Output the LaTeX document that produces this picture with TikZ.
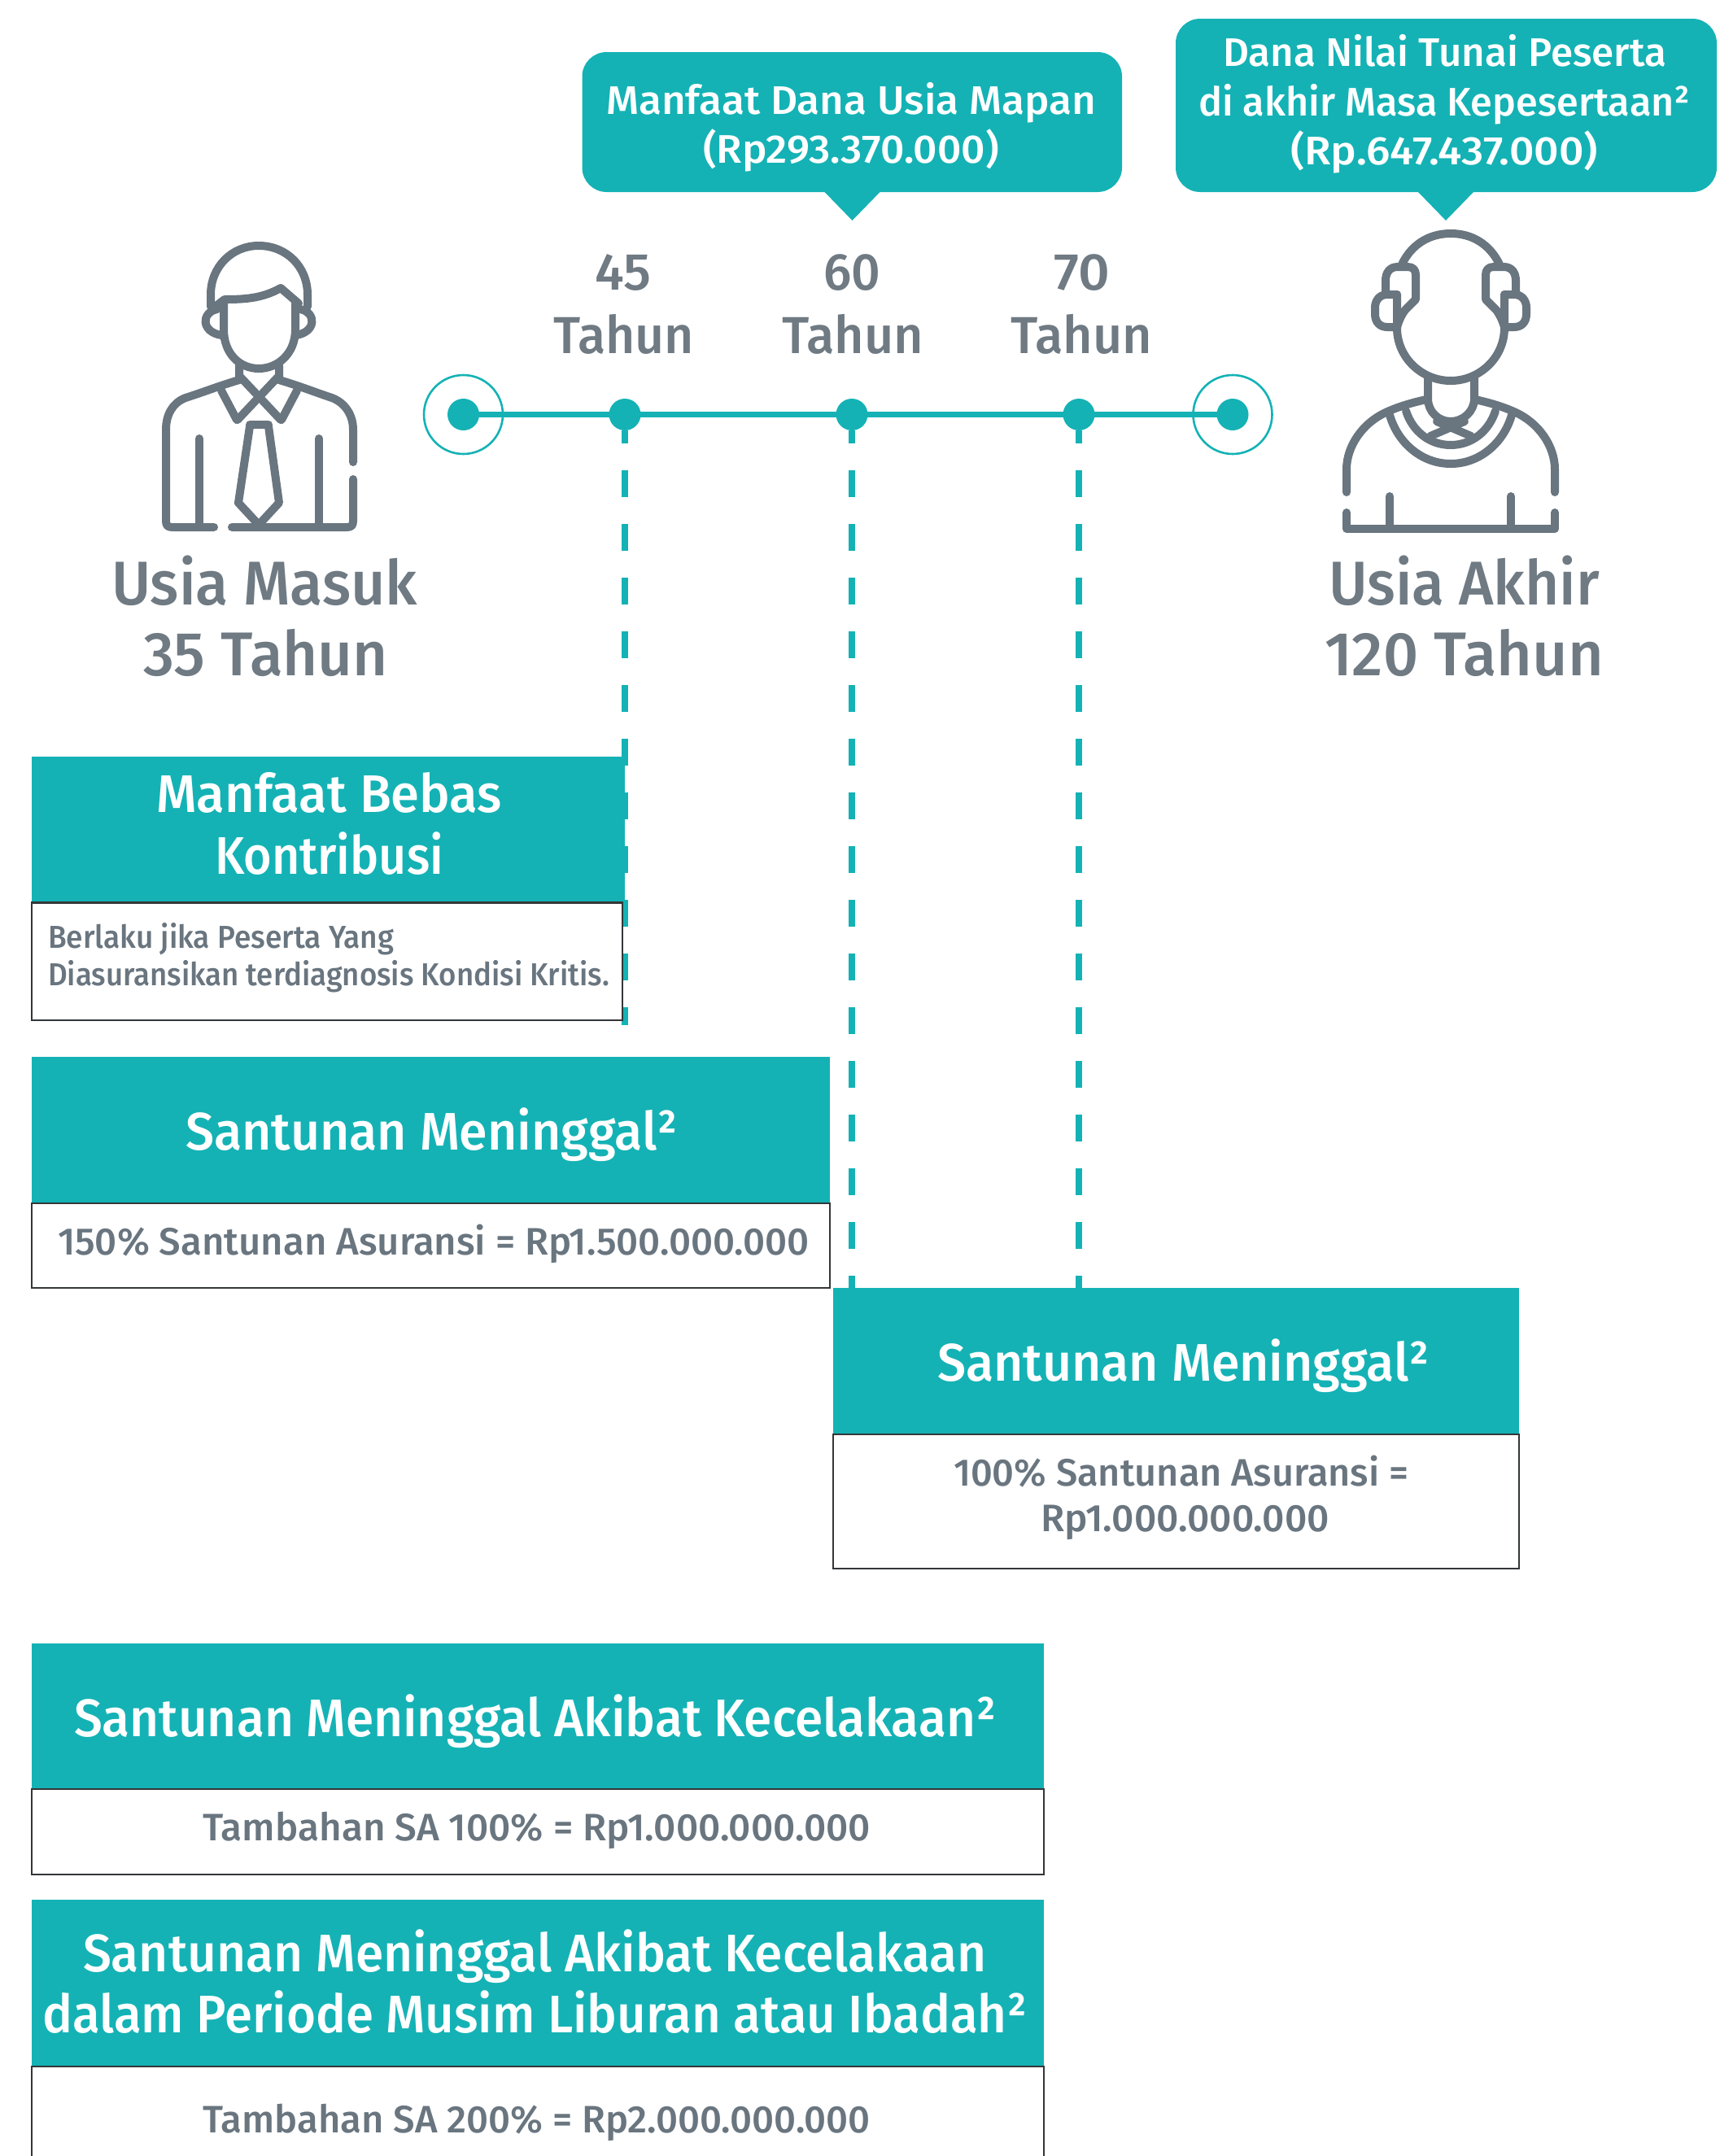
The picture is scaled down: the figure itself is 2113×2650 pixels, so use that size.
\documentclass[tikz,border=0pt]{standalone}
\usetikzlibrary{calc}
\usepackage{graphicx}
\usepackage{fontspec}
\setmainfont{Fira Sans Medium}
\definecolor{teal1}{HTML}{14B2B5}
\definecolor{grayt}{HTML}{6F7A83}
\definecolor{grayi}{HTML}{69757F}
\definecolor{edgek}{HTML}{333638}
\newsavebox\tbox
\newcommand\tx[7]{%
  \node[anchor=base west,inner sep=0pt,outer sep=0pt,text=#6] (#1) at (#2,#4)
   {\sbox\tbox{\fontsize{#5}{#5}\selectfont #7}\scalebox{\fpeval{(#3-#2)/\wd\tbox}}[1]{\usebox\tbox}};}
\newcommand\bx[6]{\node[#6,anchor=north west,inner sep=0pt,outer sep=0pt,
   minimum width={(#4-#2)*1pt},minimum height={(#5-#3)*1pt}] (#1) at (#2,#3) {};}
\tikzset{
 tealbox/.style={fill=teal1,draw=none},
 whitebox/.style={fill=white,draw=edgek,line width=2.8pt},
 bubble/.style={fill=teal1,draw=none,rounded corners=30pt},
 dotn/.style={circle,fill=teal1,draw=none,minimum size=39pt,inner sep=0pt},
 ringn/.style={circle,draw=teal1,fill=white,line width=2.6pt,minimum size=97pt,inner sep=0pt},
 tline/.style={draw=teal1,line width=7pt},
 dashl/.style={draw=teal1,line width=8pt,dash pattern=on 33pt off 33pt,dash phase=17pt},
 icon/.style={draw=grayi,line width=10pt,line cap=round,line join=round},
}
\begin{document}
\begin{tikzpicture}[x=1pt,y=-1pt]
\useasboundingbox (0,0) rectangle (2113,2650);
\clip (0,0) rectangle (2113,2650);

% timeline
\node[ringn] (r0) at (569.5,509.5) {};
\node[ringn] (r1) at (1515,509.5) {};
\node[dotn] (s0) at (569.5,509.5) {};
\node[dotn] (s1) at (1515,509.5) {};
\node[dotn] (d45) at (768,509.5) {};
\node[dotn] (d60) at (1047,509.5) {};
\node[dotn] (d70) at (1326,509.5) {};
\draw[tline] (s0.center) -- (d45.center) -- (d60.center) -- (d70.center) -- (s1.center);
\coordinate (e45) at (768,1260);
\draw[dashl] (d45.south) -- (e45);

% boxes with the dashed lines under them
\bx{t3}{1024}{1583}{1867}{1762}{tealbox}
\draw[dashl] (d60.south) -- (d60.south |- t3.north);
\draw[dashl] (d70.south) -- (d70.south |- t3.north);
\bx{w3}{1024}{1763}{1867}{1928}{whitebox}
\bx{t1}{39}{930}{768}{1108}{tealbox}
\bx{w1}{39}{1109.5}{765}{1254}{whitebox}
\bx{t2}{39}{1299}{1020}{1478}{tealbox}
\bx{w2}{39}{1479}{1020}{1583}{whitebox}
\bx{t4}{39}{2020}{1283}{2198}{tealbox}
\bx{w4}{39}{2199}{1283}{2304}{whitebox}
\bx{t5}{39}{2335}{1283}{2539}{tealbox}
\bx{w5}{39}{2540}{1283}{2680}{whitebox}

% bubbles
\bx{b1}{715.5}{64}{1379}{236}{bubble}
\bx{b2}{1445}{23}{2110}{236}{bubble}
\coordinate (tip1) at (1047.5,271);
\coordinate (tip2) at (1777,271);
\fill[teal1] (tip1) -- ($(tip1 |- b1.south)+(-35,-1)$) -- ($(tip1 |- b1.south)+(35,-1)$) -- cycle;
\fill[teal1] (tip2) -- ($(tip2 |- b2.south)+(-35,-1)$) -- ($(tip2 |- b2.south)+(35,-1)$) -- cycle;

% man
\begin{scope}[icon]
\draw (259,377) -- (259,362) .. controls (259,328) and (285,302) .. (318,302) .. controls (352,302) and (378,328) .. (378,362) -- (378,377);
\draw (263,378) -- (276,368) .. controls (300,368) and (322,367) .. (345,354) -- (367,373);
\draw (275,370) -- (275,405) .. controls (275,435) and (295,453) .. (318,453) .. controls (341,453) and (363,435) .. (363,405) -- (363,373);
\draw (267,380) .. controls (247,384) and (247,408) .. (272,412);
\draw (369,380) .. controls (389,384) and (389,408) .. (364,412);
\draw (294,449) -- (294,467) .. controls (270,474) and (250,482) .. (228,489) .. controls (212,495) and (204,510) .. (204,528) -- (204,640) .. controls (204,646) and (206,648) .. (212,648) -- (263,648);
\draw (343,449) -- (343,467) .. controls (367,474) and (387,482) .. (408,489) .. controls (424,495) and (434,510) .. (434,528) -- (434,568);
\draw (434,589) -- (434,640) .. controls (434,646) and (432,648) .. (426,648) -- (285,648);
\draw (296,464) -- (345,516);
\draw (341,464) -- (292,516);
\draw (272,480) -- (291,516);
\draw (365,480) -- (346,516);
\draw (307,522) -- (330,522);
\draw (307,524) -- (293,618) -- (318,645) -- (343,618) -- (330,524);
\draw (245,539) -- (245,648);
\draw (392,539) -- (392,648);
\end{scope}

% old man
\begin{scope}[icon]
\draw (1723,325) .. controls (1735,300) and (1757,287) .. (1783,287) .. controls (1809,287) and (1831,300) .. (1843,325);
\draw (1703,360) -- (1703,345) .. controls (1703,335) and (1708,328) .. (1718,328) -- (1730,328) .. controls (1737,328) and (1740,332) .. (1740,338) -- (1740,368) -- (1727,381) .. controls (1722,388) and (1719,395) .. (1717,402);
\draw (1863,360) -- (1863,345) .. controls (1863,335) and (1858,328) .. (1848,328) -- (1836,328) .. controls (1829,328) and (1826,332) .. (1826,338) -- (1826,368) -- (1839,381) .. controls (1844,388) and (1847,395) .. (1849,402);
\draw (1717,362) -- (1705,362) .. controls (1695,362) and (1690,370) .. (1690,378) -- (1690,386) .. controls (1690,396) and (1696,402) .. (1705,402) -- (1717,402);
\draw (1849,362) -- (1861,362) .. controls (1871,362) and (1876,370) .. (1876,378) -- (1876,386) .. controls (1876,396) and (1870,402) .. (1861,402) -- (1849,402);
\draw (1717,362) -- (1717,403) .. controls (1717,440) and (1748,468) .. (1783,468) .. controls (1818,468) and (1849,440) .. (1849,403) -- (1849,362);
\draw (1755,465) -- (1755,490) .. controls (1755,506) and (1768,518) .. (1783,518) .. controls (1798,518) and (1812,506) .. (1812,490) -- (1812,465);
\draw (1753,491) .. controls (1735,495) and (1718,500) .. (1703,507) .. controls (1675,520) and (1655,548) .. (1655,577) -- (1655,605);
\draw (1813,491) .. controls (1831,495) and (1848,500) .. (1863,507) .. controls (1891,520) and (1911,548) .. (1911,577) -- (1911,605);
\draw (1708,510) .. controls (1718,545) and (1748,570) .. (1783,570) .. controls (1818,570) and (1848,545) .. (1858,510);
\draw (1728,505) .. controls (1736,530) and (1757,547) .. (1783,547) .. controls (1809,547) and (1830,530) .. (1838,505);
\draw (1800,518) -- (1758,536);
\draw (1766,518) -- (1808,536);
\draw (1655,630) -- (1655,650) -- (1911,650) -- (1911,630);
\draw (1708,610) -- (1708,650);
\draw (1857,610) -- (1857,650);
\end{scope}

% texts
\tx{a1}{745}{1347}{140}{49}{white}{Manfaat Dana Usia Mapan}
\tx{a2}{864}{1228}{200}{49}{white}{(Rp293.370.000)}
\tx{b11}{1503}{2048}{81}{49}{white}{Dana Nilai Tunai Peserta}
\tx{b12}{1473}{2077}{142}{49}{white}{di akhir Masa Kepesertaan²}
\tx{b13}{1586}{1964}{202}{49}{white}{(Rp.647.437.000)}
\tx{n45}{731}{800}{356}{64}{grayt}{45}
\tx{n60}{1012}{1082}{356}{64}{grayt}{60}
\tx{n70}{1295}{1364}{356}{64}{grayt}{70}
\tx{y45}{680}{853}{434}{64}{grayt}{Tahun}
\tx{y60}{961}{1135}{434}{64}{grayt}{Tahun}
\tx{y70}{1242}{1416}{434}{64}{grayt}{Tahun}
\tx{um1}{137}{513}{743.5}{76}{grayt}{Usia Masuk}
\tx{um2}{176}{477}{830.5}{76}{grayt}{35 Tahun}
\tx{ua1}{1633}{1966}{743.5}{76}{grayt}{Usia Akhir}
\tx{ua2}{1628}{1971}{830.5}{76}{grayt}{120 Tahun}
\tx{h1a}{192}{617}{998}{65}{white}{Manfaat Bebas}
\tx{h1b}{264}{545}{1074}{65}{white}{Kontribusi}
\tx{c1a}{59}{484}{1165}{39}{grayi}{Berlaku jika Peserta Yang}
\tx{c1b}{59}{749}{1211}{39}{grayi}{Diasuransikan terdiagnosis Kondisi Kritis.}
\tx{h2}{228}{832}{1413}{65}{white}{Santunan Meninggal²}
\tx{c2}{71}{995}{1542}{47}{grayi}{150\% Santunan Asuransi = Rp1.500.000.000}
\tx{h3}{1152}{1756}{1697}{65}{white}{Santunan Meninggal²}
\tx{c3a}{1172}{1731}{1826}{47}{grayi}{100\% Santunan Asuransi =}
\tx{c3b}{1279}{1634}{1882}{47}{grayi}{Rp1.000.000.000}
\tx{h4}{91}{1224}{2134}{65}{white}{Santunan Meninggal Akibat Kecelakaan²}
\tx{c4}{249}{1070}{2262}{47}{grayi}{Tambahan SA 100\% = Rp1.000.000.000}
\tx{h5a}{102}{1213}{2423}{65}{white}{Santunan Meninggal Akibat Kecelakaan}
\tx{h5b}{52}{1262}{2498}{65}{white}{dalam Periode Musim Liburan atau Ibadah²}
\tx{c5}{249}{1070}{2621}{47}{grayi}{Tambahan SA 200\% = Rp2.000.000.000}
\end{tikzpicture}
\end{document}
